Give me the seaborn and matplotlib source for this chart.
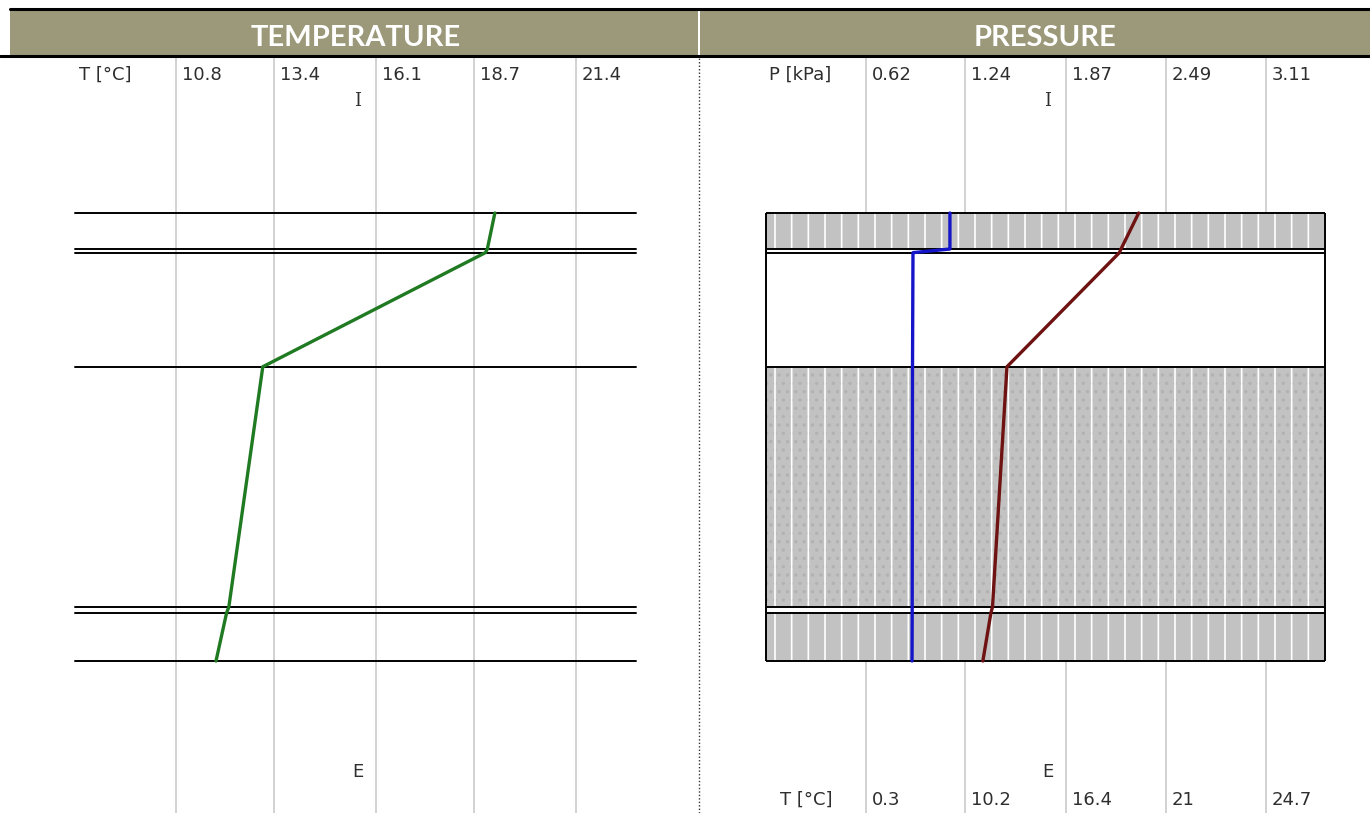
import numpy as np
import pandas as pd
import matplotlib
matplotlib.use("Agg")
import matplotlib.pyplot as plt
import matplotlib.transforms as mtrans
from matplotlib.patches import Rectangle
from matplotlib.lines import Line2D
import seaborn as sns

# ---------------- data ----------------
panel_titles = ["TEMPERATURE", "PRESSURE"]
temp_axis_label = "T [°C]"
press_axis_label = "P [kPa]"
temp_ticks = [10.8, 13.4, 16.1, 18.7, 21.4]
press_ticks = [0.62, 1.24, 1.87, 2.49, 3.11]
sat_temp_labels = ["0.3", "10.2", "16.4", "21", "24.7"]
side_labels = ["I", "E"]

layer_bounds = [0, 15, 16.5, 64, 164, 166.5, 186.5]      # depth from interior side
layer_shaded = [True, False, False, True, False, True]
layer_dotted = [False, False, False, True, False, False]

temperature = [19.25, 19.05, 19.0, 13.1, 12.2, 12.14, 11.86]
vapour_pressure = [1.145, 1.145, 0.915, 0.912, 0.910, 0.910, 0.909]
sat_pressure = [2.32, 2.21, 2.20, 1.50, 1.41, 1.40, 1.35]

# ---------------- style ----------------
sns.set_theme(style="white")
plt.rcParams["font.family"] = ["DejaVu Sans"]
plt.rcParams["hatch.linewidth"] = 1.2

W, H = 1370, 813
fig = plt.figure(figsize=(W / 100, H / 100), dpi=100)
fig.patch.set_facecolor("white")

TOP_PX = 57
Y0_PX = 213
PX_PER_UNIT = 448 / 186.5


def depth_at(py):
    return (py - Y0_PX) / PX_PER_UNIT


label_color = "#2e2e2e"
grid_color = "#d2d2d2"
fs = 13

# ---------------- header ----------------
band_color = "#9b997a"
fig.add_artist(Rectangle((10 / W, 1 - 55 / H), 688 / W, 45 / H, transform=fig.transFigure,
                         facecolor=band_color, edgecolor="none"))
fig.add_artist(Rectangle((700 / W, 1 - 55 / H), 670 / W, 45 / H, transform=fig.transFigure,
                         facecolor=band_color, edgecolor="none"))
fig.add_artist(Line2D([10 / W, 1], [1 - 9 / H, 1 - 9 / H], transform=fig.transFigure,
                      color="black", lw=2.2))
fig.add_artist(Line2D([0, 1], [1 - 56 / H, 1 - 56 / H], transform=fig.transFigure,
                      color="black", lw=2.2))
fig.add_artist(Line2D([699 / W, 699 / W], [0, 1 - 57 / H], transform=fig.transFigure,
                      color="#333333", lw=1.0, ls=(0, (1, 1.5))))
fig.text(356 / W, 1 - 38 / H, panel_titles[0], ha="center", va="center", color="white",
         fontsize=21, fontweight="bold", family=["Lato", "DejaVu Sans"])
fig.text(1045 / W, 1 - 38 / H, panel_titles[1], ha="center", va="center", color="white",
         fontsize=21, fontweight="bold", family=["Lato", "DejaVu Sans"])

# ---------------- left panel: temperature ----------------
axL = fig.add_axes([0, 0, 699 / W, (H - TOP_PX) / H])
kT = 0.0265  # degC per pixel
axL.set_xlim(temp_ticks[0] - 176 * kT, temp_ticks[0] + (699 - 176) * kT)
axL.set_ylim(depth_at(H), depth_at(TOP_PX))
axL.set_axis_off()

for t in temp_ticks:
    axL.axvline(t, color=grid_color, lw=1.4, zorder=0)
for b in layer_bounds:
    axL.axhline(b, xmin=75 / 699, xmax=636 / 699, color="black", lw=1.4, zorder=2)

sns.lineplot(x=temperature, y=layer_bounds, orient="y", sort=False, estimator=None,
             color="#1f7a22", lw=2.4, ax=axL, zorder=4)
axL.set_axis_off()

offL = mtrans.offset_copy(axL.transData, fig=fig, x=6, y=0, units="dots")
for t in temp_ticks:
    axL.text(t, depth_at(75), f"{t}", transform=offL, ha="left", va="center",
             fontsize=fs, color=label_color)
blL = mtrans.blended_transform_factory(axL.transAxes, axL.transData)
axL.text(105 / 699, depth_at(75), temp_axis_label, transform=blL, ha="center", va="center",
         fontsize=fs, color=label_color)
axL.text(358 / 699, depth_at(101), side_labels[0], transform=blL, ha="center", va="center",
         fontsize=fs, color=label_color, family=["DejaVu Serif"])
axL.text(358 / 699, depth_at(772), side_labels[1], transform=blL, ha="center", va="center",
         fontsize=fs, color=label_color)

# ---------------- right panel: pressure ----------------
axR = fig.add_axes([700 / W, 0, 670 / W, (H - TOP_PX) / H])
kP = 0.006225  # kPa per pixel
axR.set_xlim(-66 * kP, (670 - 66) * kP)
axR.set_ylim(depth_at(H), depth_at(TOP_PX))
axR.set_axis_off()
box_right = (1325 - 766) * kP

for p in press_ticks:
    axR.axvline(p, color=grid_color, lw=1.4, zorder=0)

axR.add_patch(Rectangle((0, layer_bounds[0]), box_right, layer_bounds[-1] - layer_bounds[0],
                        facecolor="white", edgecolor="none", zorder=1))
for i in range(len(layer_bounds) - 1):
    y0, y1 = layer_bounds[i], layer_bounds[i + 1]
    if layer_shaded[i]:
        axR.add_patch(Rectangle((0, y0), box_right, y1 - y0, facecolor="#c2c2c2",
                                edgecolor="none", zorder=1.5))
        if layer_dotted[i]:
            axR.add_patch(Rectangle((0, y0), box_right, y1 - y0, fill=False, hatch="..",
                                    edgecolor="#b2b2b2", lw=0, zorder=1.6))
        axR.add_patch(Rectangle((0, y0), box_right, y1 - y0, fill=False, hatch="|",
                                edgecolor="white", lw=0, zorder=1.7))

axR.hlines(layer_bounds, 0, box_right, color="black", lw=1.4, zorder=3)
axR.vlines([0, box_right], layer_bounds[0], layer_bounds[-1], color="black", lw=1.4, zorder=3)

sns.lineplot(x=vapour_pressure, y=layer_bounds, orient="y", sort=False, estimator=None,
             color="#1414c8", lw=2.4, ax=axR, zorder=4)
sns.lineplot(x=sat_pressure, y=layer_bounds, orient="y", sort=False, estimator=None,
             color="#6e1212", lw=2.4, ax=axR, zorder=4)
axR.set_axis_off()

offR = mtrans.offset_copy(axR.transData, fig=fig, x=6, y=0, units="dots")
for p, lab in zip(press_ticks, sat_temp_labels):
    axR.text(p, depth_at(75), f"{p}", transform=offR, ha="left", va="center",
             fontsize=fs, color=label_color)
    axR.text(p, depth_at(800), lab, transform=offR, ha="left", va="center",
             fontsize=fs, color=label_color)
blR = mtrans.blended_transform_factory(axR.transAxes, axR.transData)
axR.text(100 / 670, depth_at(75), press_axis_label, transform=blR, ha="center", va="center",
         fontsize=fs, color=label_color)
axR.text(106 / 670, depth_at(800), temp_axis_label, transform=blR, ha="center", va="center",
         fontsize=fs, color=label_color)
axR.text(348 / 670, depth_at(101), side_labels[0], transform=blR, ha="center", va="center",
         fontsize=fs, color=label_color, family=["DejaVu Serif"])
axR.text(348 / 670, depth_at(772), side_labels[1], transform=blR, ha="center", va="center",
         fontsize=fs, color=label_color)

fig.savefig("out.png", dpi=100, facecolor="white")
